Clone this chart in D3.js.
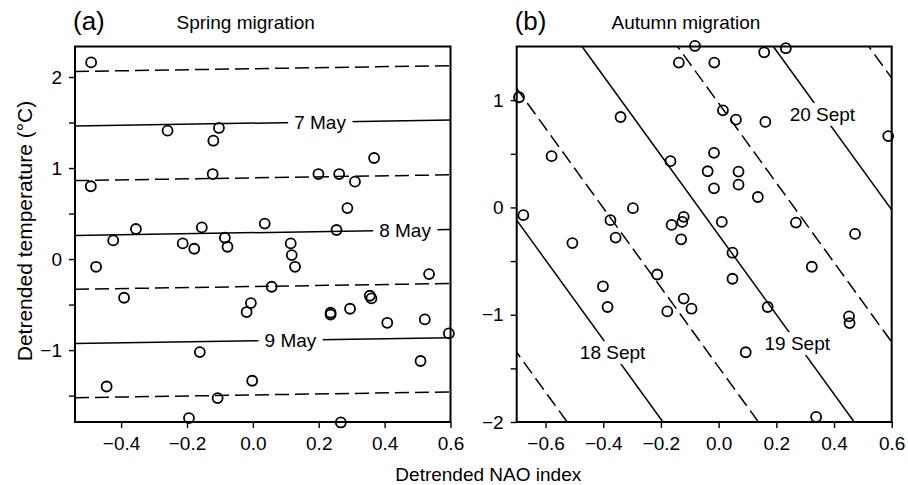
<!DOCTYPE html>
<html><head><meta charset="utf-8">
<script src="https://cdn.jsdelivr.net/npm/d3@7"></script>
<style>
body{margin:0;background:#fff}
svg{display:block}
text{font-family:"Liberation Sans",Arial,Helvetica,sans-serif;fill:#000}
</style>
</head><body>
<svg id="chart" width="908" height="485"></svg>
<script>
// ---------- DATA ----------
// Panel (a) Spring migration
const springNAO  = [-0.491,-0.259,-0.103,-0.120,-0.122,-0.492,-0.424,-0.355,-0.476,-0.391,-0.213,-0.178,-0.155,-0.085,-0.077,0.036,-0.006,-0.019,-0.161,-0.444,-0.002,-0.107,-0.194,0.199,0.262,0.310,0.368,0.287,0.254,0.115,0.118,0.128,0.057,0.236,0.236,0.295,0.355,0.360,0.408,0.522,0.535,0.595,0.509,0.267];
const springTemp = [2.16,1.41,1.44,1.30,0.934,0.80,0.205,0.33,-0.085,-0.425,0.172,0.113,0.348,0.234,0.135,0.39,-0.484,-0.582,-1.022,-1.40,-1.337,-1.527,-1.747,0.934,0.934,0.85,1.11,0.56,0.319,0.172,0.044,-0.085,-0.304,-0.59,-0.61,-0.546,-0.403,-0.432,-0.70,-0.663,-0.165,-0.817,-1.12,-1.795];
// contour lines: temperature at NAO = 0, common slope (temp per NAO unit)
const springContourAt0 = [2.091,1.493,0.892,0.290,-0.302,-0.897,-1.493];
const springContourSlope = 0.056;
const springContourDashed = [true,false,true,false,true,false,true];
const springLabelText = ["7 May","8 May","9 May"];
const springLabelLine = [1,3,5];
const springLabelNAO  = [0.204,0.462,0.114];

// Panel (b) Autumn migration
const autumnNAO  = [-0.082,-0.138,-0.692,-0.340,-0.579,-0.167,-0.038,-0.677,-0.297,-0.375,-0.357,-0.507,-0.163,-0.121,-0.126,-0.130,-0.213,-0.401,-0.385,-0.121,-0.178,-0.094,0.158,0.233,-0.015,0.015,0.060,0.162,0.588,-0.016,0.069,-0.016,0.069,0.136,0.011,0.268,0.473,0.048,0.048,0.323,0.170,0.452,0.454,0.094,0.338];
const autumnTemp = [1.505,1.35,1.027,0.843,0.478,0.431,0.337,-0.072,-0.007,-0.119,-0.281,-0.332,-0.163,-0.088,-0.135,-0.297,-0.625,-0.735,-0.928,-0.85,-0.969,-0.944,1.446,1.484,1.35,0.905,0.818,0.797,0.665,0.509,0.334,0.178,0.212,0.097,-0.135,-0.141,-0.247,-0.422,-0.665,-0.553,-0.928,-1.016,-1.078,-1.35,-1.953];
// contour lines: NAO value where each line meets temperature = -2, common slope (temp per NAO unit)
const autumnContourAtMinus2 = [-0.525,-0.193,0.138,0.470,0.801,1.133,1.464];
const autumnContourSlope = -3.71;
const autumnContourDashed = [true,false,true,false,true,false,true];
const autumnLabelText = ["18 Sept","19 Sept","20 Sept"];
const autumnLabelLine = [1,3,5];
const autumnLabelTemp = [-1.352,-1.268,0.869];

// ticks
const springXTicks = [-0.4,-0.2,0,0.2,0.4,0.6];
const springYTicks = [-1.5,-1,-0.5,0,0.5,1,1.5,2];
const autumnXTicks = [-0.6,-0.4,-0.2,0,0.2,0.4,0.6];
const autumnYTicks = [-2,-1.5,-1,-0.5,0,0.5,1];

// ---------- DRAW ----------
const svg = d3.select("#chart");
const FONT = 19;
const plotTop = 46.5, plotBottom = 422;

function panel(opt){
  const g = svg.append("g");
  const x = d3.scaleLinear().domain(opt.xDomain).range([opt.left, opt.right]);
  const y = d3.scaleLinear().domain(opt.yDomain).range([plotBottom, plotTop]);
  const clipId = "clip" + opt.id;
  svg.append("clipPath").attr("id", clipId).append("rect")
     .attr("x", opt.left).attr("y", plotTop).attr("width", opt.right-opt.left).attr("height", plotBottom-plotTop);

  // contour lines
  const lg = g.append("g").attr("clip-path", `url(#${clipId})`);
  opt.lines.forEach((ln, i) => {
    lg.append("line")
      .attr("x1", x(ln[0][0])).attr("y1", y(ln[0][1]))
      .attr("x2", x(ln[1][0])).attr("y2", y(ln[1][1]))
      .attr("stroke", "#000").attr("stroke-width", 1.5)
      .attr("stroke-dasharray", opt.dashed[i] ? "14,6" : null);
  });
  // labels with white background
  opt.labels.forEach(lb => {
    const t = g.append("text")
      .attr("x", x(lb.x)).attr("y", y(lb.y)).attr("dy", "0.35em")
      .attr("text-anchor", "middle").attr("font-size", FONT).text(lb.text);
    const bb = t.node().getBBox();
    g.insert("rect", () => t.node())
      .attr("x", bb.x - 6).attr("y", bb.y - 1).attr("width", bb.width + 12).attr("height", bb.height + 2)
      .attr("fill", "#fff");
  });

  // axes
  const xAxis = d3.axisBottom(x).tickValues(opt.xTicks).tickSize(6).tickPadding(9).tickFormat(d3.format(".1f"));
  const yAxis = d3.axisLeft(y).tickValues(opt.yTicks).tickSize(6).tickPadding(7)
      .tickFormat(d => Number.isInteger(d) ? d3.format("d")(d) : "");
  const gx = g.append("g").attr("transform", `translate(0,${plotBottom})`).call(xAxis);
  const gy = g.append("g").attr("transform", `translate(${opt.left},0)`).call(yAxis);
  [gx, gy].forEach(a => {
    a.select(".domain").remove();
    a.selectAll("line").attr("stroke", "#000").attr("stroke-width", 1.4);
    a.selectAll("text").attr("font-size", FONT).attr("font-family", null).attr("fill", "#000");
  });

  // frame
  g.append("rect").attr("x", opt.left).attr("y", plotTop)
    .attr("width", opt.right-opt.left).attr("height", plotBottom-plotTop)
    .attr("fill", "none").attr("stroke", "#000").attr("stroke-width", 2);

  // points
  g.append("g").selectAll("circle").data(opt.xs).join("circle")
    .attr("cx", (d,i) => x(d)).attr("cy", (d,i) => y(opt.ys[i]))
    .attr("r", 5).attr("fill", "none").attr("stroke", "#000").attr("stroke-width", 1.8);

  // titles
  g.append("text").attr("x", opt.left - 2).attr("y", 29.5).attr("font-size", 26).text(opt.tag);
  g.append("text").attr("x", opt.titleX).attr("y", 28.5).attr("font-size", FONT).text(opt.title);
}

// spring
const sxd = [-0.54, 0.6];
panel({
  id: "a", left: 75, right: 450.5, xDomain: sxd, yDomain: [-1.79, 2.335],
  xs: springNAO, ys: springTemp,
  lines: springContourAt0.map(c => [[sxd[0], c + springContourSlope*sxd[0]], [sxd[1], c + springContourSlope*sxd[1]]]),
  dashed: springContourDashed,
  labels: springLabelText.map((t,i) => ({text: t, x: springLabelNAO[i],
           y: springContourAt0[springLabelLine[i]] + springContourSlope*springLabelNAO[i]})),
  xTicks: springXTicks, yTicks: springYTicks,
  tag: "(a)", title: "Spring migration", titleX: 176.5
});

// autumn
const ayd = [-2, 1.5];
panel({
  id: "b", left: 516.7, right: 891.7, xDomain: [-0.7, 0.6], yDomain: ayd,
  xs: autumnNAO, ys: autumnTemp,
  lines: autumnContourAtMinus2.map(n => [[n, -2], [n + (ayd[1]-ayd[0])/autumnContourSlope, ayd[1]]]),
  dashed: autumnContourDashed,
  labels: autumnLabelText.map((t,i) => ({text: t,
           x: autumnContourAtMinus2[autumnLabelLine[i]] + (autumnLabelTemp[i] + 2)/autumnContourSlope,
           y: autumnLabelTemp[i]})),
  xTicks: autumnXTicks, yTicks: autumnYTicks,
  tag: "(b)", title: "Autumn migration", titleX: 611.5
});

// axis titles
svg.append("text").attr("transform", "translate(32,231) rotate(-90)")
  .attr("text-anchor", "middle").attr("font-size", 21).text("Detrended temperature (°C)");
svg.append("text").attr("x", 488.3).attr("y", 481)
  .attr("text-anchor", "middle").attr("font-size", FONT).text("Detrended NAO index");
</script>
</body></html>
